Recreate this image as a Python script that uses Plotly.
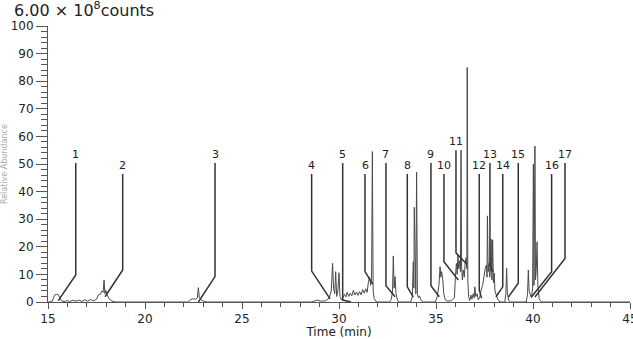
import plotly.graph_objects as go

# Chromatogram (retention time in min, relative abundance in %)
time_min = [15.00, 15.20, 15.28, 15.35, 15.45, 15.55, 15.62, 15.72, 15.90, 16.00,
            16.10, 16.30, 16.45, 16.60, 16.75, 16.90, 17.05, 17.20, 17.35, 17.50,
            17.60, 17.70, 17.78, 17.84, 17.89, 17.93, 17.98, 18.05, 18.15, 18.30,
            18.50, 22.20, 22.30, 22.45, 22.60, 22.70, 22.75, 22.80, 22.90, 23.05,
            23.20, 28.60, 28.75, 28.90, 29.05, 29.30, 29.50, 29.60, 29.67, 29.72,
            29.78, 29.83, 29.88, 29.94, 30.00, 30.05, 30.12, 30.20, 30.28, 30.35,
            30.42, 30.50, 30.58, 30.66, 30.74, 30.82, 30.90, 30.98, 31.06, 31.14,
            31.22, 31.30, 31.38, 31.45, 31.52, 31.58, 31.63, 31.68, 31.72, 31.76,
            31.82, 31.90, 32.00, 32.60, 32.70, 32.76, 32.80, 32.84, 32.89, 32.94,
            33.02, 33.10, 33.70, 33.78, 33.83, 33.86, 33.88, 33.92, 33.96, 34.00,
            34.04, 34.10, 34.15, 34.22, 34.35, 34.95, 35.05, 35.15, 35.21, 35.25,
            35.29, 35.35, 35.40, 35.48, 35.60, 35.80, 35.95, 36.00, 36.05, 36.09,
            36.13, 36.17, 36.22, 36.26, 36.29, 36.32, 36.36, 36.41, 36.46, 36.50,
            36.55, 36.59, 36.61, 36.64, 36.68, 36.74, 36.80, 36.85, 36.92, 36.97,
            37.00, 37.05, 37.12, 37.18, 37.25, 37.32, 37.40, 37.47, 37.53, 37.60,
            37.63, 37.65, 37.69, 37.73, 37.77, 37.81, 37.84, 37.88, 37.92, 37.96,
            38.00, 38.04, 38.10, 38.18, 38.30, 38.55, 38.60, 38.64, 38.68, 38.75,
            38.85, 39.65, 39.72, 39.76, 39.80, 39.85, 39.92, 39.98, 40.02, 40.05,
            40.10, 40.13, 40.17, 40.21, 40.25, 40.32, 40.45, 45.00]
abundance = [0.0, 0.1, 1.5, 2.6, 2.8, 2.5, 1.2, 0.3, 0.2, 0.5,
             0.2, 0.6, 0.3, 0.7, 0.2, 0.8, 0.3, 0.9, 0.4, 1.0,
             2.6, 2.8, 4.0, 3.5, 8.0, 3.0, 4.2, 2.5, 1.2, 0.3,
             0.0, 0.0, 0.6, 1.2, 1.0, 1.5, 5.2, 1.5, 0.8, 0.2,
             0.0, 0.0, 0.4, 0.7, 0.3, 0.4, 1.5, 4.0, 14.0, 5.0,
             3.0, 11.0, 2.0, 4.0, 10.6, 2.0, 0.8, 1.5, 2.8, 1.8,
             3.5, 2.0, 3.2, 2.2, 4.2, 2.5, 3.6, 2.4, 3.8, 2.6,
             4.5, 3.2, 4.8, 3.5, 7.5, 9.0, 6.0, 8.5, 54.5, 4.0,
             1.2, 0.2, 0.0, 0.0, 1.0, 4.0, 16.7, 5.0, 9.2, 3.0,
             0.5, 0.0, 0.0, 2.0, 14.6, 5.0, 34.3, 4.0, 3.0, 47.0,
             3.0, 1.5, 2.2, 0.8, 0.0, 0.0, 1.5, 6.0, 12.8, 9.0,
             11.0, 8.0, 3.0, 0.8, 0.3, 0.5, 1.5, 9.0, 14.0, 10.0,
             17.0, 12.0, 15.0, 11.0, 55.0, 13.0, 8.0, 11.6, 9.0, 14.0,
             16.0, 12.0, 85.0, 8.0, 2.0, 0.5, 2.5, 1.0, 3.0, 1.5,
             5.5, 2.0, 3.0, 0.8, 1.5, 4.0, 6.0, 9.0, 12.0, 13.4,
             9.0, 31.2, 11.0, 14.0, 9.0, 12.0, 22.8, 8.0, 22.5, 7.0,
             10.5, 4.0, 3.0, 1.0, 0.0, 0.0, 3.0, 12.2, 3.0, 0.5,
             0.0, 0.0, 3.0, 11.6, 4.0, 3.0, 1.5, 5.0, 50.0, 6.0,
             56.5, 8.0, 12.0, 21.8, 6.0, 1.0, 0.0, 0.0]

# Peak labels and their leader lines (label time, top, bend, peak point)
peak_labels = ["1", "2", "3", "4", "5", "6", "7", "8", "9", "10",
               "11", "12", "13", "14", "15", "16", "17"]
label_time = [16.43, 18.85, 23.61, 28.59, 30.19, 31.34, 32.42, 33.52, 34.74, 35.41,
              36.03, 37.23, 37.78, 38.44, 39.24, 40.96, 41.65]
label_top = [50.4, 46.4, 50.4, 46.4, 50.4, 46.4, 50.4, 46.4, 50.4, 46.4,
             55.0, 46.4, 50.4, 46.4, 50.4, 46.4, 50.4]
bend_value = [9.8, 11.6, 9.2, 11.2, 0.7, 11.0, 5.9, 5.5, 5.9, 14.6,
              17.8, 4.3, 13.4, 5.5, 6.8, 11.0, 15.8]
peak_time = [15.53, 17.94, 22.75, 29.54, 30.62, 31.74, 32.89, 33.83, 35.17, 36.15,
             36.58, 37.35, 37.94, 38.09, 38.73, 39.93, 40.10]
peak_value = [0.5, 1.9, 0.0, 1.1, 0.0, 6.5, 1.9, 1.8, 1.9, 8.0,
              13.8, 1.4, 10.9, 1.9, 1.8, 1.9, 1.8]

FONT = "DejaVu Sans"
TXT = "#222222"
AX = "#555555"

fig = go.Figure()
fig.add_trace(go.Scatter(x=time_min, y=abundance, mode="lines",
                         line=dict(color="#4a4a4a", width=1),
                         hoverinfo="skip", showlegend=False))

for i, lab in enumerate(peak_labels):
    fig.add_trace(go.Scatter(
        x=[label_time[i], label_time[i], peak_time[i]],
        y=[label_top[i], bend_value[i], peak_value[i]],
        mode="lines", line=dict(color="#333333", width=1.5),
        hoverinfo="skip", showlegend=False))
    fig.add_annotation(x=label_time[i], y=label_top[i], text=lab,
                       showarrow=False, xanchor="center", yanchor="bottom",
                       yshift=0, font=dict(family=FONT, size=11, color=TXT))

fig.add_annotation(xref="paper", yref="paper", x=-0.0756, y=0.5,
                   text="Relative Abundance", textangle=-90, showarrow=False,
                   xanchor="center", yanchor="middle",
                   font=dict(family=FONT, size=8, color="#aaaaaa"))

fig.add_annotation(xref="paper", yref="paper", x=(12 - 48) / 582, y=(302 - 10) / 276,
                   text="6.00 × 10<sup>8</sup>counts", showarrow=False,
                   xanchor="left", yanchor="middle",
                   font=dict(family=FONT, size=16, color=TXT))

fig.update_layout(
    width=633, height=339,
    margin=dict(l=48, r=3, t=26, b=37, autoexpand=False),
    paper_bgcolor="white", plot_bgcolor="white",
    xaxis=dict(range=[15, 45], tickmode="array", tickvals=[15, 20, 25, 30, 35, 40, 45],
               ticks="outside", ticklen=6, tickcolor=AX, tickwidth=1,
               ticklabeloverflow="allow", automargin=False,
               minor=dict(dtick=1, ticks="outside", ticklen=4, tickcolor=AX),
               showline=True, linecolor=AX, linewidth=1, showgrid=False, zeroline=False,
               tickfont=dict(family=FONT, size=12, color=TXT),
               title=dict(text="Time (min)", standoff=2,
                          font=dict(family=FONT, size=12, color=TXT))),
    yaxis=dict(range=[0, 100], dtick=10, ticks="outside", ticklen=11, tickcolor=AX,
               tickwidth=1, automargin=False,
               minor=dict(dtick=2, ticks="outside", ticklen=6, tickcolor=AX),
               showline=True, linecolor=AX, linewidth=1, showgrid=False, zeroline=False,
               tickfont=dict(family=FONT, size=12, color=TXT)),
)

fig.write_html("out.html")
